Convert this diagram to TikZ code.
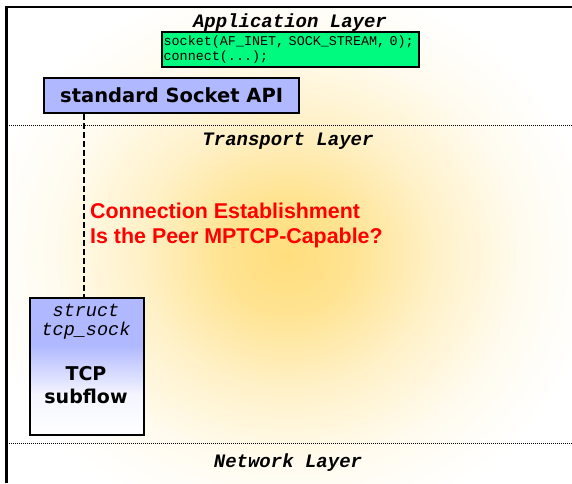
\documentclass[tikz,border=0pt]{standalone}
\usepackage{fontspec}
\newfontfamily\monof{Liberation Mono}
\newfontfamily\dejavu{DejaVu Sans}
\newfontfamily\arialf{Liberation Sans}
\definecolor{glowc}{RGB}{255,222,125}
\definecolor{apigreen}{RGB}{0,250,128}
\definecolor{apiblue}{RGB}{176,184,255}
\pgfdeclareradialshading{glowsh}{\pgfpoint{0bp}{0bp}}{color(0bp)=(glowc);color(5bp)=(glowc!85!white);color(12bp)=(glowc!42!white);color(19bp)=(glowc!12!white);color(25bp)=(white);color(50bp)=(white)}
\pgfdeclareverticalshading{tcpsh}{100bp}{color(0bp)=(white);color(25bp)=(white);color(40bp)=(apiblue!15!white);color(58bp)=(apiblue);color(75bp)=(apiblue);color(100bp)=(apiblue)}
\begin{document}
\begin{tikzpicture}[x=1pt,y=-1pt,
  layerlbl/.style={font=\monof\bfseries\itshape\fontsize{19}{19}\selectfont, anchor=base, inner sep=0},
  sepline/.style={line width=1pt, dash pattern=on 1pt off 1pt},
  boxline/.style={draw=black, line width=2.3pt},
  redtxt/.style={font=\arialf\bfseries\fontsize{21.4}{25}\selectfont, text=red, anchor=base west, inner sep=0},
  tcptxt/.style={font=\dejavu\bfseries\fontsize{19}{19}\selectfont, anchor=base, inner sep=0},
  structtxt/.style={font=\monof\itshape\fontsize{18.5}{18.5}\selectfont, anchor=base, inner sep=0}]
\useasboundingbox (0,0) rectangle (572,483);
% glow
\begin{scope}
  \clip (7,7) rectangle (572,483);
  \shade[shading=glowsh] (287,255) ellipse [x radius=310pt, y radius=280pt];
\end{scope}
% frame
\draw[line width=2.6pt] (6.2,483) -- (6.2,7) -- (572,7);
% separators
\draw[sepline] (7,125) -- (572,125);
\draw[sepline] (7,443) -- (572,443);
% layer labels
\node[layerlbl] (app) at (290,27) {Application Layer};
\node[layerlbl] (trans) at (288,145) {Transport Layer};
\node[layerlbl] (net) at (288,467) {Network Layer};
% call box
\node[boxline, fill=apigreen, anchor=north west, minimum width=257, minimum height=35, text width=254pt, inner xsep=1.5pt, inner ysep=1pt, align=left, font=\monof\fontsize{13.4}{15.5}\selectfont] (call) at (161,31) {socket(AF\_INET, SOCK\_STREAM, 0);\\connect(...);};
% socket api
\node[boxline, fill=apiblue, anchor=north west, minimum width=255, minimum height=35, font=\dejavu\bfseries\fontsize{19.5}{20}\selectfont] (sapi) at (43,77) {standard Socket API};
% tcp box
\node[boxline, shading=tcpsh, anchor=north west, minimum width=114, minimum height=137] (tcp) at (29,297) {};
\node[structtxt] (st1) at (86,316) {struct};
\node[structtxt] (st2) at (86,335) {tcp\_sock};
\node[tcptxt] (t1) at (86,380) {TCP};
\node[tcptxt] (t2) at (86,403) {subflow};
% dashed link
\coordinate (dl) at (84,0);
\draw[line width=2.4pt, dash pattern=on 6pt off 3pt] (sapi.south west -| dl) -- (dl |- tcp.north);
% red text
\node[redtxt] (ce1) at (90,218) {Connection Establishment};
\node[redtxt] (ce2) at (90,243) {Is the Peer MPTCP-Capable?};
\end{tikzpicture}
\end{document}
